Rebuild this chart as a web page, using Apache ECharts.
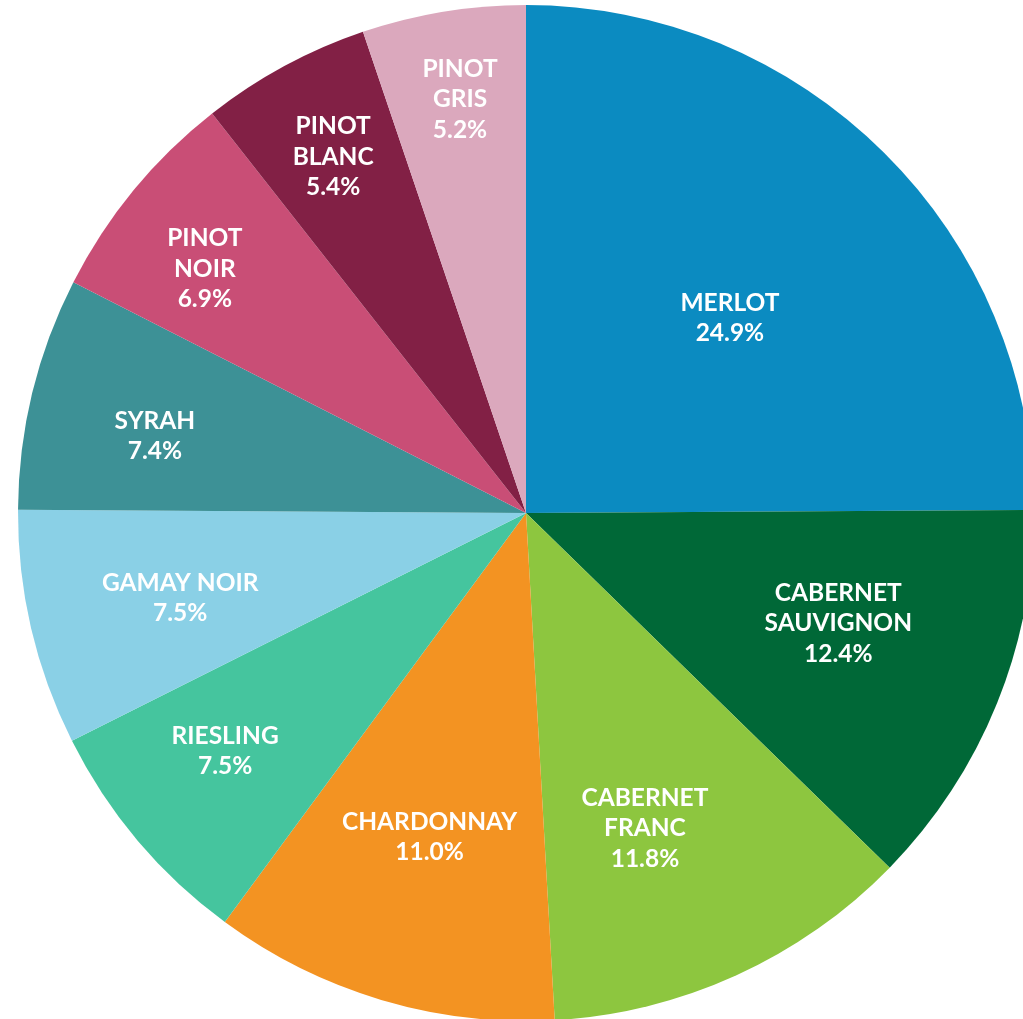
<!DOCTYPE html>
<html>
<head>
<meta charset="utf-8">
<script src="https://cdn.jsdelivr.net/npm/echarts@6/dist/echarts.min.js"></script>
<style>
    html, body { margin: 0; padding: 0; background: #fff; }
    #main { width: 1023px; height: 1019px; }
</style>
</head>
<body>
<div id="main"></div>
<script>
    // grapes, clockwise from 12 o'clock
    var names = ['MERLOT', 'CABERNET\nSAUVIGNON', 'CABERNET\nFRANC', 'CHARDONNAY', 'RIESLING',
                 'GAMAY NOIR', 'SYRAH', 'PINOT\nNOIR', 'PINOT\nBLANC', 'PINOT\nGRIS'];
    var shares = [24.9, 12.4, 11.8, 11.0, 7.5, 7.5, 7.4, 6.9, 5.4, 5.2];
    var colors = ['#0b8bc1', '#006837', '#8dc63f', '#f39322', '#45c59e',
                  '#8ad0e6', '#3d9196', '#c94e76', '#822045', '#dba8bd'];
    // label placement: fraction of radius, and small turn (deg) off the slice middle
    var labelDist = [0.555, 0.652, 0.663, 0.666, 0.755, 0.701, 0.746, 0.794, 0.797, 0.825];
    var labelTurn = [1.5, -2.5, 3.8, 0, 1.8, -0.7, -2.0, -2.2, 0, 0.3];

    var cx = 526, cy = 513, R = 508;

    var total = 0;
    for (var i = 0; i < shares.length; i++) total += shares[i];
    var midAngle = [];
    var acc = 0;
    for (var i = 0; i < shares.length; i++) {
        midAngle.push((acc + shares[i] / 2) / total * 360);
        acc += shares[i];
    }

    var pieData = [];
    for (var i = 0; i < names.length; i++) {
        pieData.push({ name: names[i], value: shares[i], itemStyle: { color: colors[i] } });
    }

    var chart = echarts.init(document.getElementById('main'));
    chart.setOption({
        animation: false,
        series: [{
            type: 'pie',
            center: [cx, cy],
            radius: [0, R],
            startAngle: 90,
            clockwise: true,
            avoidLabelOverlap: false,
            itemStyle: { borderWidth: 0 },
            label: {
                show: true,
                position: 'inside',
                color: '#fff',
                fontFamily: 'Lato',
                fontWeight: 'bold',
                fontSize: 24.5,
                lineHeight: 30.5,
                align: 'center',
                formatter: function (p) {
                    return p.name + '\n' + p.value.toFixed(1) + '%';
                }
            },
            labelLine: { show: false },
            labelLayout: function (p) {
                var i = p.dataIndex;
                var a = (midAngle[i] + labelTurn[i]) * Math.PI / 180;
                var d = R * labelDist[i];
                return {
                    x: cx + d * Math.sin(a),
                    y: cy - d * Math.cos(a),
                    align: 'center',
                    verticalAlign: 'middle'
                };
            },
            data: pieData
        }]
    });
</script>
</body>
</html>
